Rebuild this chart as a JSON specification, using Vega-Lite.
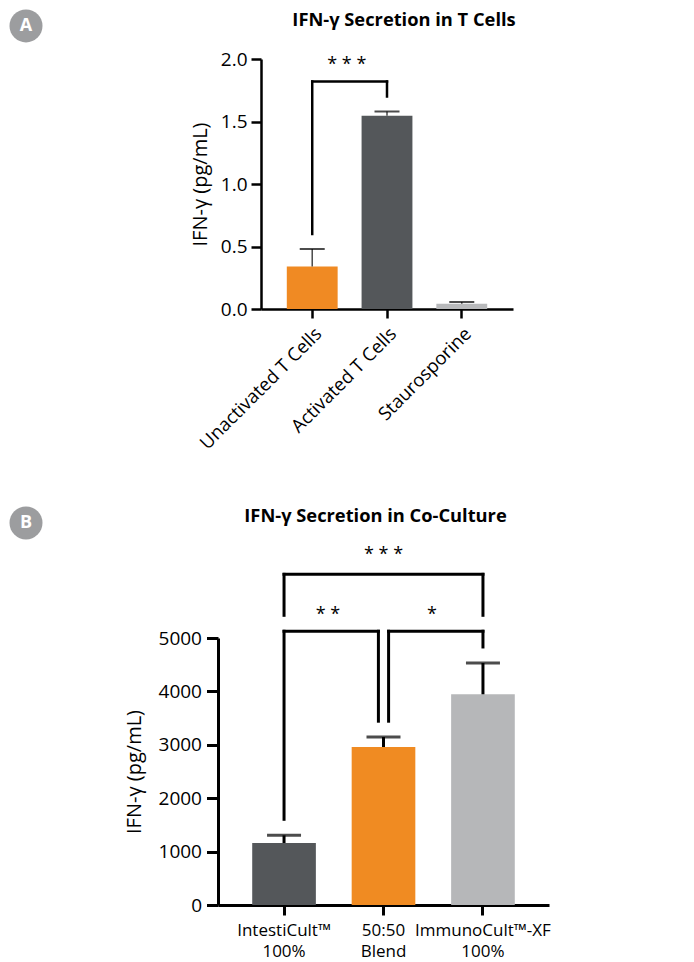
{
  "$schema": "https://vega.github.io/schema/vega-lite/v6.json",
  "background": "white",
  "padding": {"left": 9, "top": 9, "right": 0, "bottom": 0},
  "resolve": {"scale": {"color": "independent"}},
  "config": {
    "view": {"stroke": null},
    "font": "Open Sans",
    "axis": {"domainColor": "black", "tickColor": "black", "labelColor": "black", "titleColor": "black", "grid": false, "titleFontWeight": "normal", "labelFont": "Open Sans", "titleFont": "Open Sans"}
  },
  "concat": [
    {
      "concat": [
        {
          "width": 34, "height": 250,
          "data": {"values": [{"badge": "A", "y": 2.265}]},
          "encoding": {"y": {"field": "y", "type": "quantitative", "scale": {"domain": [0, 2], "nice": false}, "axis": null}},
          "layer": [
            {"mark": {"type": "point", "filled": true, "shape": "circle", "size": 1089, "color": "#9c9d9f", "opacity": 1}},
            {"mark": {"type": "text", "color": "white", "font": "Open Sans", "fontWeight": "bold", "fontSize": 18, "baseline": "middle", "align": "center"}, "encoding": {"text": {"field": "badge"}}}
          ]
        },
        {
          "width": 252, "height": 250,
          "title": {"text": "IFN-γ Secretion in T Cells", "font": "Open Sans", "fontSize": 18.3, "fontWeight": "bold", "anchor": "middle", "dx": 17, "offset": 20, "color": "black"},
          "layer": [
            {
              "data": {"values": [
                {"cat": "Unactivated T Cells", "mean": 0.34, "err": 0.48},
                {"cat": "Activated T Cells", "mean": 1.546, "err": 1.58},
                {"cat": "Staurosporine", "mean": 0.042, "err": 0.056}
              ]},
              "layer": [
                {
                  "mark": {"type": "bar"},
                  "encoding": {
                    "x": {"field": "cat", "type": "nominal", "sort": null,
                      "scale": {"domain": ["Unactivated T Cells", "Activated T Cells", "Staurosporine"], "paddingInner": 0.32, "paddingOuter": 0.345},
                      "axis": {"title": null, "labelAngle": -45, "labelFontSize": 18.5, "tickSize": 9, "tickWidth": 2.5, "domainWidth": 2.5, "labelPadding": 6}},
                    "y": {"field": "mean", "type": "quantitative",
                      "scale": {"domain": [0, 2], "nice": false},
                      "axis": {"title": "IFN-γ (pg/mL)", "values": [0, 0.5, 1, 1.5, 2], "format": ".1f", "labelFontSize": 19, "titleFontSize": 20, "tickSize": 10, "tickWidth": 2.5, "domainWidth": 2.5, "labelPadding": 4, "titlePadding": 10}},
                    "color": {"field": "cat", "type": "nominal", "legend": null,
                      "scale": {"domain": ["Unactivated T Cells", "Activated T Cells", "Staurosporine"], "range": ["#F08A23", "#54575A", "#B8B9BB"]}}
                  }
                },
                {
                  "mark": {"type": "rule", "color": "#4a4a4a", "strokeWidth": 1.5},
                  "encoding": {
                    "x": {"field": "cat", "type": "nominal"},
                    "y": {"field": "mean", "type": "quantitative"},
                    "y2": {"field": "err"}
                  }
                },
                {
                  "mark": {"type": "tick", "color": "black", "thickness": 2, "size": 25},
                  "encoding": {
                    "x": {"field": "cat", "type": "nominal"},
                    "y": {"field": "err", "type": "quantitative"}
                  }
                }
              ]
            },
            {
              "data": {"values": [
                {"cat": "Unactivated T Cells", "y1": 0.60, "y2": 1.82},
                {"cat": "Activated T Cells", "y1": 1.70, "y2": 1.82}
              ]},
              "mark": {"type": "rule", "color": "black", "strokeWidth": 2.5, "strokeCap": "square"},
              "encoding": {
                "x": {"field": "cat", "type": "nominal"},
                "y": {"field": "y1", "type": "quantitative"},
                "y2": {"field": "y2"}
              }
            },
            {
              "data": {"values": [{"c1": "Unactivated T Cells", "c2": "Activated T Cells", "y": 1.82}]},
              "mark": {"type": "rule", "color": "black", "strokeWidth": 2.5, "strokeCap": "square"},
              "encoding": {
                "x": {"field": "c1", "type": "nominal"},
                "x2": {"field": "c2"},
                "y": {"field": "y", "type": "quantitative"}
              }
            },
            {
              "data": {"values": [{"cat": "Unactivated T Cells", "y": 1.95, "label": "* * *"}]},
              "mark": {"type": "text", "fontSize": 18, "baseline": "middle", "align": "center", "color": "black"},
              "encoding": {
                "x": {"field": "cat", "type": "nominal", "bandPosition": 1.18},
                "y": {"field": "y", "type": "quantitative"},
                "text": {"field": "label"}
              }
            }
          ]
        }
      ],
      "columns": 2, "spacing": 147, "align": "none"
    },
    {
      "concat": [
        {
          "width": 34, "height": 267,
          "data": {"values": [{"badge": "B", "y": 7155}]},
          "encoding": {"y": {"field": "y", "type": "quantitative", "scale": {"domain": [0, 5000], "nice": false}, "axis": null}},
          "layer": [
            {"mark": {"type": "point", "filled": true, "shape": "circle", "size": 1089, "color": "#9c9d9f", "opacity": 1}},
            {"mark": {"type": "text", "color": "white", "font": "Open Sans", "fontWeight": "bold", "fontSize": 18, "baseline": "middle", "align": "center"}, "encoding": {"text": {"field": "badge"}}}
          ]
        },
        {
          "width": 331, "height": 267,
          "title": {"text": "IFN-γ Secretion in Co-Culture", "font": "Open Sans", "fontSize": 18.3, "fontWeight": "bold", "anchor": "middle", "dx": -8, "offset": 19, "color": "black"},
          "layer": [
            {
              "data": {"values": [
                {"cat": "IntestiCult™|100%", "mean": 1161, "err": 1305},
                {"cat": "50:50|Blend", "mean": 2959, "err": 3146},
                {"cat": "ImmunoCult™-XF|100%", "mean": 3946, "err": 4532}
              ]},
              "layer": [
                {
                  "mark": {"type": "bar"},
                  "encoding": {
                    "x": {"field": "cat", "type": "nominal", "sort": null,
                      "scale": {"domain": ["IntestiCult™|100%", "50:50|Blend", "ImmunoCult™-XF|100%"], "paddingInner": 0.36, "paddingOuter": 0.344},
                      "axis": {"title": null, "labelAngle": 0, "labelExpr": "split(datum.label, '|')", "labelFontSize": 17, "labelLineHeight": 21, "tickSize": 10, "tickWidth": 3, "domainWidth": 3, "labelPadding": 7}},
                    "y": {"field": "mean", "type": "quantitative",
                      "scale": {"domain": [0, 5000], "nice": false},
                      "axis": {"title": "IFN-γ (pg/mL)", "values": [0, 1000, 2000, 3000, 4000, 5000], "format": "d", "labelFontSize": 19, "titleFontSize": 20, "tickSize": 11.5, "tickWidth": 3, "domainWidth": 3, "labelPadding": 5, "titlePadding": 14}},
                    "color": {"field": "cat", "type": "nominal", "legend": null,
                      "scale": {"domain": ["IntestiCult™|100%", "50:50|Blend", "ImmunoCult™-XF|100%"], "range": ["#54575A", "#F08B22", "#B6B7B9"]}}
                  }
                },
                {
                  "mark": {"type": "rule", "color": "black", "strokeWidth": 3},
                  "encoding": {
                    "x": {"field": "cat", "type": "nominal"},
                    "y": {"field": "mean", "type": "quantitative"},
                    "y2": {"field": "err"}
                  }
                },
                {
                  "mark": {"type": "tick", "color": "black", "thickness": 3, "size": 34},
                  "encoding": {
                    "x": {"field": "cat", "type": "nominal"},
                    "y": {"field": "err", "type": "quantitative"}
                  }
                }
              ]
            },
            {
              "data": {"values": [
                {"cat": "IntestiCult™|100%", "y1": 1605, "y2": 5126},
                {"cat": "IntestiCult™|100%", "y1": 5425, "y2": 6192},
                {"cat": "ImmunoCult™-XF|100%", "y1": 5425, "y2": 6192},
                {"cat": "ImmunoCult™-XF|100%", "y1": 4832, "y2": 5126}
              ]},
              "mark": {"type": "rule", "color": "black", "strokeWidth": 3, "strokeCap": "square"},
              "encoding": {
                "x": {"field": "cat", "type": "nominal"},
                "y": {"field": "y1", "type": "quantitative"},
                "y2": {"field": "y2"}
              }
            },
            {
              "data": {"values": [{"cat": "50:50|Blend", "y1": 3442, "y2": 5126}]},
              "mark": {"type": "rule", "color": "black", "strokeWidth": 3, "strokeCap": "square"},
              "encoding": {
                "x": {"field": "cat", "type": "nominal", "bandPosition": 0.42},
                "y": {"field": "y1", "type": "quantitative"},
                "y2": {"field": "y2"}
              }
            },
            {
              "data": {"values": [{"cat": "50:50|Blend", "y1": 3442, "y2": 5126}]},
              "mark": {"type": "rule", "color": "black", "strokeWidth": 3, "strokeCap": "square"},
              "encoding": {
                "x": {"field": "cat", "type": "nominal", "bandPosition": 0.58},
                "y": {"field": "y1", "type": "quantitative"},
                "y2": {"field": "y2"}
              }
            },
            {
              "data": {"values": [{"c1": "IntestiCult™|100%", "c2": "50:50|Blend", "y": 5126}]},
              "mark": {"type": "rule", "color": "black", "strokeWidth": 3, "strokeCap": "square"},
              "encoding": {
                "x": {"field": "c1", "type": "nominal"},
                "x2": {"field": "c2", "bandPosition": 0.42},
                "y": {"field": "y", "type": "quantitative"}
              }
            },
            {
              "data": {"values": [{"c1": "50:50|Blend", "c2": "ImmunoCult™-XF|100%", "y": 5126}]},
              "mark": {"type": "rule", "color": "black", "strokeWidth": 3, "strokeCap": "square"},
              "encoding": {
                "x": {"field": "c1", "type": "nominal", "bandPosition": 0.58},
                "x2": {"field": "c2"},
                "y": {"field": "y", "type": "quantitative"}
              }
            },
            {
              "data": {"values": [{"c1": "IntestiCult™|100%", "c2": "ImmunoCult™-XF|100%", "y": 6192}]},
              "mark": {"type": "rule", "color": "black", "strokeWidth": 3, "strokeCap": "square"},
              "encoding": {
                "x": {"field": "c1", "type": "nominal"},
                "x2": {"field": "c2"},
                "y": {"field": "y", "type": "quantitative"}
              }
            },
            {
              "data": {"values": [{"cat": "50:50|Blend", "y": 6560, "label": "* * *"}]},
              "mark": {"type": "text", "fontSize": 18, "baseline": "middle", "align": "center", "color": "black"},
              "encoding": {
                "x": {"field": "cat", "type": "nominal"},
                "y": {"field": "y", "type": "quantitative"},
                "text": {"field": "label"}
              }
            },
            {
              "data": {"values": [{"cat": "IntestiCult™|100%", "y": 5430, "label": "* *"}]},
              "mark": {"type": "text", "fontSize": 18, "baseline": "middle", "align": "center", "color": "black"},
              "encoding": {
                "x": {"field": "cat", "type": "nominal", "bandPosition": 1.19},
                "y": {"field": "y", "type": "quantitative"},
                "text": {"field": "label"}
              }
            },
            {
              "data": {"values": [{"cat": "50:50|Blend", "y": 5430, "label": "*"}]},
              "mark": {"type": "text", "fontSize": 18, "baseline": "middle", "align": "center", "color": "black"},
              "encoding": {
                "x": {"field": "cat", "type": "nominal", "bandPosition": 1.26},
                "y": {"field": "y", "type": "quantitative"},
                "text": {"field": "label"}
              }
            }
          ]
        }
      ],
      "columns": 2, "spacing": 81, "align": "none"
    }
  ],
  "columns": 1, "spacing": 53, "align": "none"
}
